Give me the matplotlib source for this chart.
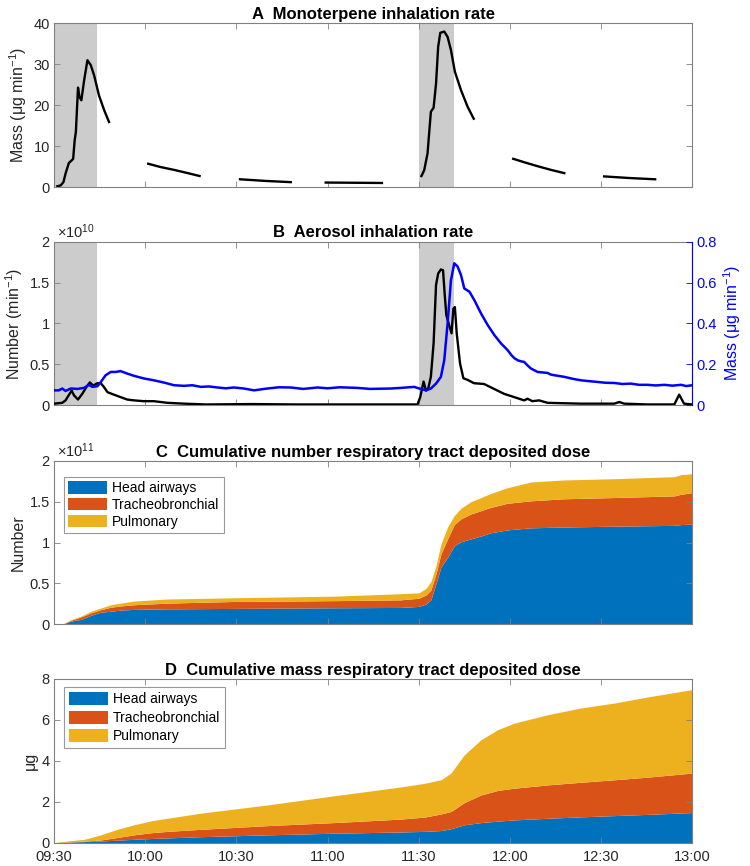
import matplotlib
matplotlib.use("Agg")
import matplotlib.pyplot as plt
from matplotlib.ticker import FuncFormatter
import numpy as np

plt.rcParams['font.family'] = ['Liberation Sans', 'DejaVu Sans']
plt.rcParams['mathtext.fontset'] = 'custom'
plt.rcParams['mathtext.rm'] = 'Liberation Sans'
plt.rcParams['mathtext.it'] = 'Liberation Sans:italic'

nan = np.nan

# time axis: minutes after 09:30
tick_pos = [0, 30, 60, 90, 120, 150, 180, 210]
tick_labels = ["09:30", "10:00", "10:30", "11:00", "11:30", "12:00", "12:30", "13:00"]
shade_spans = [(0, 14), (120, 131.7)]

# A: monoterpene inhalation rate (ug/min), gaps = NaN
mono_t = [1.1, 2.2, 3.1, 3.8, 4.9, 5.8, 6.3, 6.8, 7.2, 7.9, 8.4, 9.0, 9.9, 11.0, 12.1, 13.2, 14.8, 16.5, 18.1, nan,
          31.0, 35.0, 39.5, 43.5, 47.9, nan,
          61.2, 69.5, 77.9, nan,
          89.4, 98.5, 107.9, nan,
          120.9, 121.8, 122.9, 124.0, 124.9, 125.7, 126.4, 127.1, 128.4, 129.5, 130.6, 131.9, 133.9, 136.1, 138.1, nan,
          151.1, 155.0, 159.1, 163.5, 167.9, nan,
          181.0, 189.5, 197.8]
mono_v = [0.2, 0.4, 1.2, 3.3, 5.9, 6.5, 6.9, 11.4, 13.5, 24.3, 22.0, 21.2, 26.0, 31.0, 29.8, 27.3, 22.4, 18.8, 15.9, nan,
          5.7, 4.9, 4.2, 3.5, 2.7, nan,
          1.9, 1.5, 1.2, nan,
          1.1, 1.05, 1.0, nan,
          2.7, 4.1, 8.2, 18.4, 19.4, 25.3, 34.3, 37.7, 38.0, 36.7, 33.5, 28.2, 23.7, 19.6, 16.7, nan,
          6.9, 6.0, 5.1, 4.2, 3.4, nan,
          2.6, 2.2, 1.9]

# B: aerosol number inhalation rate (x1e10 /min)
num_t = [0, 2.7, 3.8, 5.8, 6.6, 7.9, 9.3, 10.6, 11.8, 12.9, 14.3, 15.4, 16.5, 17.6, 19.7, 21.9, 24.1, 26.3,
         29.6, 32.9, 37.3, 42.8, 50, 65, 80, 95, 110, 119.6, 120.5, 121.6, 122.4, 123.1, 124.0, 124.9, 125.7,
         126.4, 127.3, 128.0, 128.6, 129.1, 130.0, 130.8, 131.4, 131.9, 132.5, 133.6, 134.7, 136.1, 138.2,
         141.5, 144.8, 148.1, 151.4, 154.7, 155.8, 157.4, 159.6, 162.4, 173.4, 184.3, 186.0, 187.6, 195.3,
         204.1, 205.7, 207.3, 210]
num_v = [0.02, 0.03, 0.06, 0.18, 0.12, 0.07, 0.14, 0.22, 0.28, 0.24, 0.27, 0.27, 0.22, 0.16, 0.13, 0.10, 0.07, 0.06,
         0.05, 0.05, 0.03, 0.02, 0.01, 0.015, 0.01, 0.01, 0.01, 0.01, 0.10, 0.29, 0.18, 0.20, 0.35, 0.76, 1.47,
         1.61, 1.66, 1.65, 1.33, 1.10, 0.98, 0.88, 1.18, 1.20, 0.88, 0.51, 0.33, 0.31, 0.27,
         0.26, 0.20, 0.14, 0.10, 0.06, 0.08, 0.05, 0.06, 0.03, 0.02, 0.02, 0.04, 0.02, 0.01,
         0.01, 0.13, 0.02, 0.01]

# B: aerosol mass inhalation rate (ug/min)
mass_t = [0, 1.6, 2.7, 3.8, 5.5, 7.7, 9.9, 11.5, 12.6, 14.3, 15.4, 17.0, 18.7, 20.3, 21.9, 24.1, 26.3, 29.6,
          32.9, 36.2, 39.5, 42.8, 45.5, 48.3, 51.0, 53.8, 56.5, 59.2, 62.5, 65.8, 70.2, 74.0, 77.9, 82.0, 86.7,
          90.0, 94.0, 99.8, 104.0, 110.8, 114.1, 118.5, 120.2, 122.4, 124.0, 125.7, 127.3, 128.4, 129.5, 130.6,
          131.7, 132.8, 133.9, 135.0, 136.7, 138.3, 140.5, 142.7, 144.9, 147.1, 149.3, 150.5, 151.5, 152.6, 153.6,
          154.7, 155.8, 156.9, 159.1, 162.4, 163.5, 164.6, 167.9, 170.5, 173.4, 176.0, 178.9, 181.5, 184.4,
          187.0, 189.8, 192.5, 195.3, 198.0, 200.8, 203.5, 206.3, 208.0, 210]
mass_v = [0.073, 0.073, 0.082, 0.070, 0.082, 0.080, 0.085, 0.100, 0.090, 0.093, 0.114, 0.147, 0.163, 0.163, 0.167,
          0.155, 0.144, 0.131, 0.122, 0.111, 0.098, 0.095, 0.098, 0.090, 0.092, 0.087, 0.083, 0.087, 0.082, 0.073,
          0.082, 0.088, 0.087, 0.080, 0.087, 0.083, 0.088, 0.085, 0.080, 0.082, 0.085, 0.090, 0.082, 0.073, 0.082,
          0.106, 0.139, 0.220, 0.400, 0.610, 0.694, 0.678, 0.637, 0.571, 0.555, 0.514, 0.449, 0.392, 0.343,
          0.302, 0.269, 0.245, 0.230, 0.220, 0.215, 0.212, 0.195, 0.180, 0.163, 0.158, 0.150, 0.147, 0.139,
          0.130, 0.122, 0.118, 0.114, 0.110, 0.109, 0.104, 0.106, 0.100, 0.100, 0.097, 0.100, 0.096, 0.100,
          0.094, 0.098]

# C: cumulative number deposited dose (x1e11), boundaries of stacked layers
dose_n_t = [0, 3.3, 5.5, 8.8, 12.1, 15.4, 18.7, 21.9, 26.3, 37.3, 59.2, 92.2, 114.1, 120.1, 122.4, 124.0, 125.7,
            127.3, 129.5, 131.7, 133.9, 137.2, 140.5, 143.7, 149.2, 156.9, 167.9, 184.3, 204.1, 206.3, 210]
dose_n_head = [0, 0.01, 0.04, 0.06, 0.11, 0.15, 0.16, 0.175, 0.183, 0.19, 0.195, 0.203, 0.207, 0.22, 0.25, 0.30,
               0.50, 0.70, 0.82, 0.96, 1.01, 1.045, 1.08, 1.12, 1.155, 1.18, 1.19, 1.20, 1.21, 1.22, 1.225]
dose_n_tb = [0, 0.01, 0.05, 0.09, 0.14, 0.18, 0.21, 0.225, 0.24, 0.26, 0.28, 0.29, 0.30, 0.32, 0.36, 0.42, 0.62,
             0.86, 1.045, 1.22, 1.29, 1.35, 1.39, 1.43, 1.48, 1.51, 1.535, 1.55, 1.57, 1.59, 1.61]
dose_n_pul = [0, 0.012, 0.057, 0.10, 0.16, 0.20, 0.24, 0.26, 0.285, 0.31, 0.325, 0.345, 0.375, 0.386, 0.44, 0.52,
              0.72, 0.98, 1.19, 1.33, 1.42, 1.50, 1.55, 1.60, 1.67, 1.74, 1.765, 1.78, 1.805, 1.83, 1.84]

# D: cumulative mass deposited dose (ug)
dose_m_t = [0, 4.4, 9.9, 15.4, 20.8, 26.3, 31.8, 37.3, 48.3, 70.2, 92.2, 114.1, 122.0, 127.3, 130.6, 135.0, 140.5,
            146.0, 151.4, 162.4, 173.3, 184.3, 195.3, 210]
dose_m_head = [0, 0.02, 0.05, 0.08, 0.12, 0.16, 0.20, 0.23, 0.29, 0.38, 0.46, 0.52, 0.55, 0.59, 0.68, 0.87, 0.98,
               1.05, 1.11, 1.19, 1.26, 1.32, 1.38, 1.47]
dose_m_tb = [0, 0.03, 0.07, 0.13, 0.25, 0.38, 0.48, 0.55, 0.65, 0.83, 0.98, 1.15, 1.25, 1.40, 1.52, 1.96, 2.33,
             2.55, 2.66, 2.82, 2.95, 3.07, 3.20, 3.40]
dose_m_pul = [0, 0.08, 0.16, 0.38, 0.65, 0.87, 1.06, 1.19, 1.44, 1.84, 2.29, 2.72, 2.90, 3.07, 3.40, 4.29, 5.03,
              5.52, 5.84, 6.25, 6.58, 6.82, 7.12, 7.48]

layer_names = ["Head airways", "Tracheobronchial", "Pulmonary"]
layer_colors = ["#0072BD", "#D95319", "#EDB120"]

FS = 10.5      # tick labels
FL = 11.5      # axis labels
FT = 12        # titles
FLEG = 10      # legend
TXT = "#262626"
EDGE = "#808080"


def style(ax, xlabels=False, right=True):
    ax.set_xlim(0, 210)
    ax.set_xticks(tick_pos)
    ax.set_xticklabels(tick_labels if xlabels else [])
    ax.tick_params(direction="in", top=True, right=right, length=4, width=0.6,
                   colors=EDGE, labelcolor=TXT, labelsize=FS, pad=3)
    ax.tick_params(axis="x", pad=5)
    for s in ax.spines.values():
        s.set_color(EDGE)
        s.set_linewidth(0.8)


def title(ax, s):
    ax.set_title(s, fontsize=FT, fontweight="bold", color="black", pad=3)


fig = plt.figure(figsize=(7.5, 8.66), dpi=100)
L, W, H = 0.072, 0.851, 0.189
axA = fig.add_axes([L, 0.784, W, H])
axB = fig.add_axes([L, 0.532, W, H])
axC = fig.add_axes([L, 0.279, W, H])
axD = fig.add_axes([L, 0.027, W, H])

fmt = FuncFormatter(lambda v, p: f"{v:g}")

# A
for a, b in shade_spans:
    axA.axvspan(a, b, color="#cccccc", lw=0, zorder=0)
axA.plot(mono_t, mono_v, color="black", lw=1.7)
axA.set_ylim(0, 40)
axA.set_yticks([0, 10, 20, 30, 40])
style(axA)
axA.set_ylabel("Mass (μg min$^{-1}$)", fontsize=FL, color=TXT, labelpad=3)
title(axA, "A  Monoterpene inhalation rate")

# B
for a, b in shade_spans:
    axB.axvspan(a, b, color="#cccccc", lw=0, zorder=0)
axB.plot(num_t, num_v, color="black", lw=1.7, zorder=3)
axB.set_ylim(0, 2)
axB.set_yticks([0, 0.5, 1, 1.5, 2])
axB.yaxis.set_major_formatter(fmt)
style(axB, right=False)
axB.set_ylabel("Number (min$^{-1}$)", fontsize=FL, color=TXT, labelpad=3)
axB.text(0.005, 1.005, r"$\times$10$^{10}$", transform=axB.transAxes, fontsize=FS, color=TXT,
         ha="left", va="bottom")
title(axB, "B  Aerosol inhalation rate")
axB2 = axB.twinx()
axB2.plot(mass_t, mass_v, color="#0000ff", lw=1.8)
axB2.set_ylim(0, 0.8)
axB2.set_yticks([0, 0.2, 0.4, 0.6, 0.8])
axB2.yaxis.set_major_formatter(fmt)
axB2.tick_params(direction="in", length=4, width=0.6, colors="#0000ff", labelsize=FS, pad=3)
for s in axB2.spines.values():
    s.set_visible(False)
axB2.spines["right"].set_visible(True)
axB2.spines["right"].set_color("#0000ff")
axB2.spines["right"].set_linewidth(0.8)
axB2.set_ylabel("Mass (μg min$^{-1}$)", fontsize=FL, color="#0000ff", labelpad=3)
axB2.set_zorder(axB.get_zorder() + 1)


def stacked(ax, t, head, tb, pul):
    zero = np.zeros(len(t))
    bounds = [zero, np.array(head), np.array(tb), np.array(pul)]
    for i in range(3):
        ax.fill_between(t, bounds[i], bounds[i + 1], color=layer_colors[i], lw=0, label=layer_names[i])


# C
stacked(axC, dose_n_t, dose_n_head, dose_n_tb, dose_n_pul)
axC.set_ylim(0, 2)
axC.set_yticks([0, 0.5, 1, 1.5, 2])
axC.yaxis.set_major_formatter(fmt)
style(axC)
axC.set_ylabel("Number", fontsize=FL, color=TXT, labelpad=3)
axC.text(0.005, 1.005, r"$\times$10$^{11}$", transform=axC.transAxes, fontsize=FS, color=TXT,
         ha="left", va="bottom")
title(axC, "C  Cumulative number respiratory tract deposited dose")
legC = axC.legend(loc="upper left", bbox_to_anchor=(0.016, 0.9), fontsize=FLEG, frameon=True, fancybox=False,
                  edgecolor=EDGE, handlelength=2.8, handleheight=1.0, labelspacing=0.2, borderpad=0.3,
                  handletextpad=0.35, borderaxespad=0)
legC.get_frame().set_linewidth(0.8)

# D
stacked(axD, dose_m_t, dose_m_head, dose_m_tb, dose_m_pul)
axD.set_ylim(0, 8)
axD.set_yticks([0, 2, 4, 6, 8])
style(axD, xlabels=True)
axD.set_ylabel("μg", fontsize=FL, color=TXT, labelpad=3)
title(axD, "D  Cumulative mass respiratory tract deposited dose")
legD = axD.legend(loc="upper left", bbox_to_anchor=(0.016, 0.95), fontsize=FLEG, frameon=True, fancybox=False,
                  edgecolor=EDGE, handlelength=2.8, handleheight=1.1, labelspacing=0.3, borderpad=0.35,
                  handletextpad=0.35, borderaxespad=0)
legD.get_frame().set_linewidth(0.8)

fig.savefig("out.png", dpi=100)
